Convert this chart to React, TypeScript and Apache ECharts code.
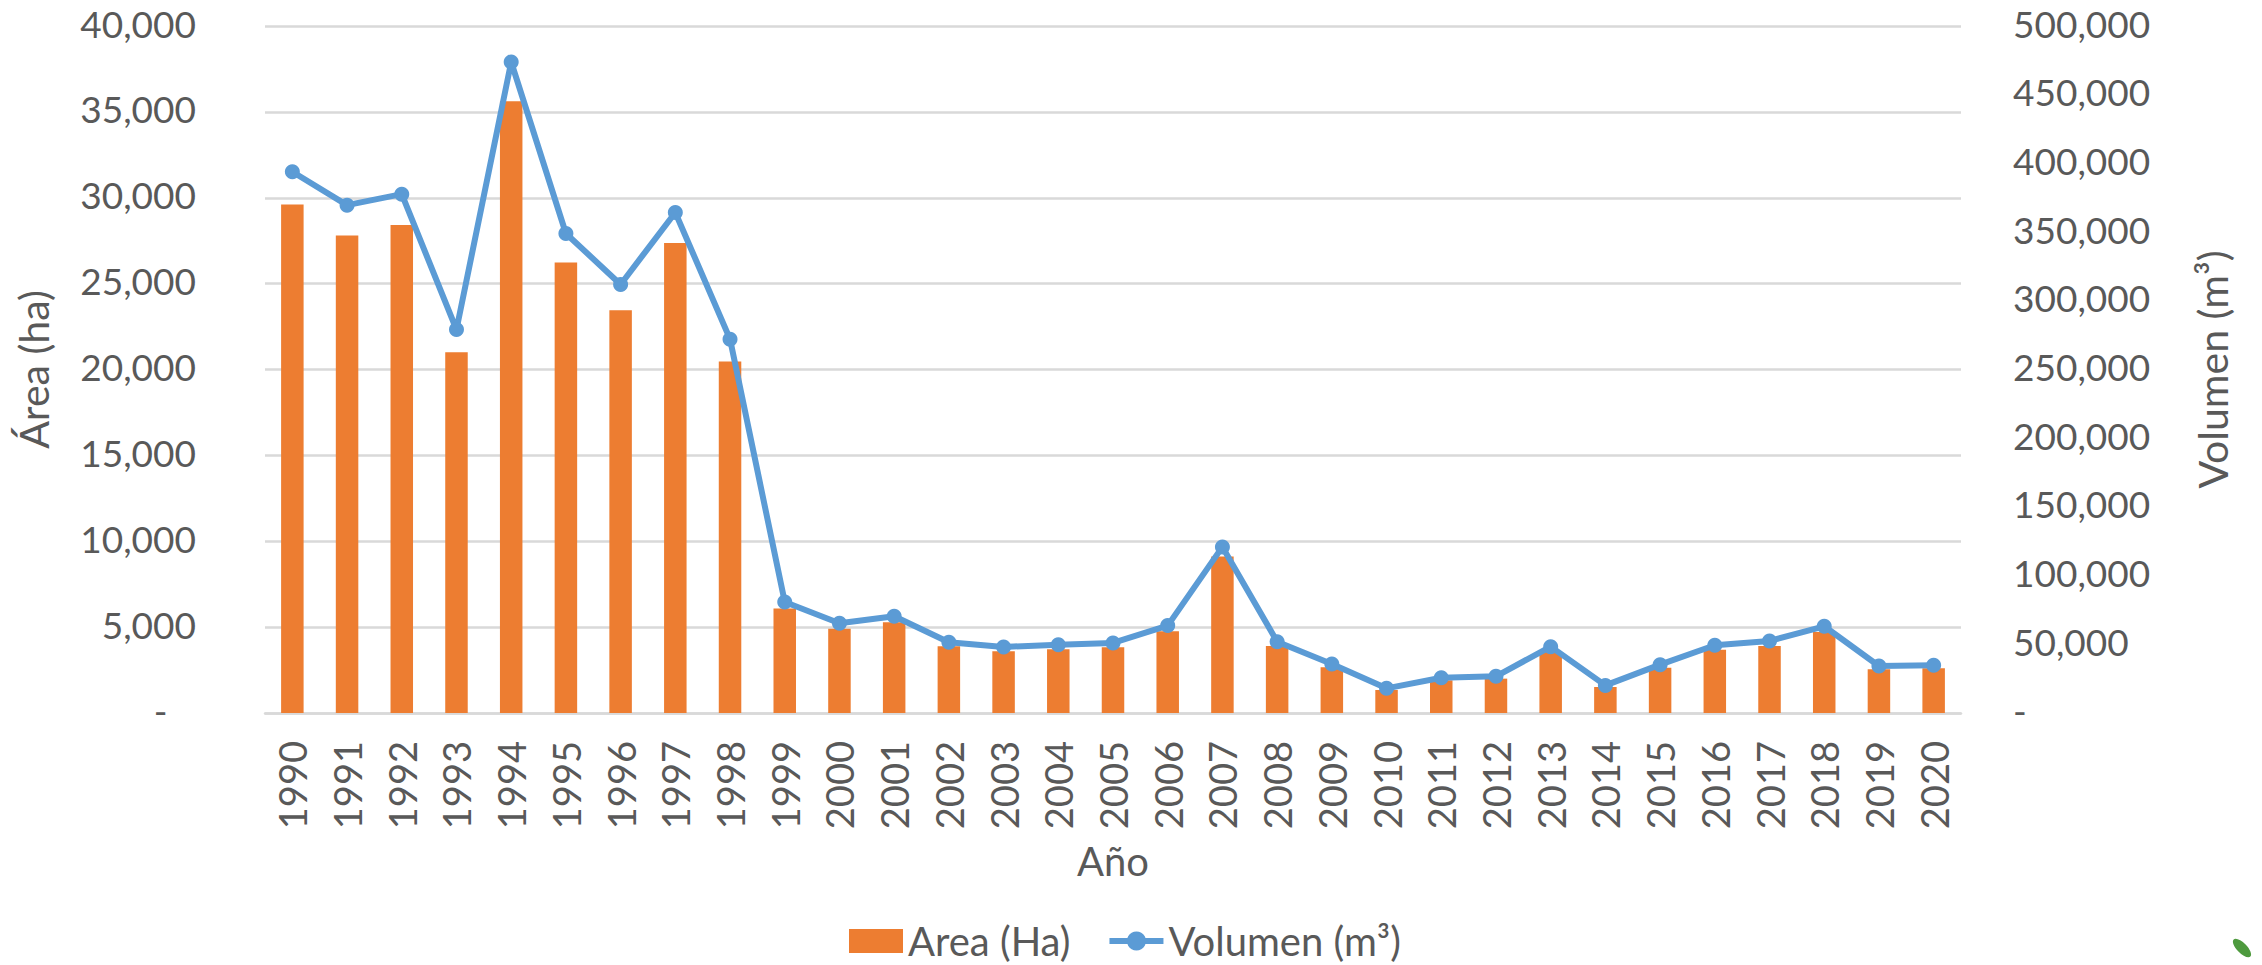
import React, { useEffect, useRef } from "react";
import * as echarts from "echarts";

const years = ["1990","1991","1992","1993","1994","1995","1996","1997","1998","1999","2000","2001","2002","2003","2004","2005","2006","2007","2008","2009","2010","2011","2012","2013","2014","2015","2016","2017","2018","2019","2020"];
const areaHa = [29614,27808,28408,21011,35614,26235,23457,27360,20469,6078,4912,5281,3883,3592,3709,3825,4757,9107,3903,2660,1340,1903,2000,3553,1515,2641,3689,3903,4718,2544,2602];
const volumenM3 = [393900,369600,377600,279100,473800,349000,311900,364300,272100,80800,65300,70400,51450,48050,49750,50970,63600,120900,51900,35700,17960,25700,26700,48300,20100,35200,49300,52400,63100,34200,34700];

const FONT = "Lato";
const TEXT = "#595959";
const GRID = "#D9D9D9";
const fmt = (v: number) => v.toLocaleString("en-US");

export default function App() {
  const ref = useRef<HTMLDivElement>(null);
  useEffect(() => {
    const chart = echarts.init(ref.current!, null, { renderer: "svg" });
    chart.setOption({
      animation: false,
      backgroundColor: "#fff",
      grid: { left: 265, right: 301, top: 26, bottom: 252, containLabel: false },
      legend: {
        left: 844, top: 916, itemWidth: 54, itemHeight: 24, itemGap: 36,
        lineStyle: { width: 6 },
        textStyle: { fontFamily: FONT, fontSize: 40, lineHeight: 40, color: TEXT, padding: [0, 0, 0, 0] },
        data: [{ name: "Area (Ha)", icon: "rect" }, { name: "Volumen (m³)" }],
      },
      xAxis: {
        type: "category", data: years,
        name: "Año", nameLocation: "middle", nameGap: 128,
        nameTextStyle: { fontFamily: FONT, fontSize: 40, color: TEXT },
        axisTick: { show: false },
        axisLine: { lineStyle: { color: GRID, width: 2.5 } },
        axisLabel: { rotate: 90, margin: 28, interval: 0, fontFamily: FONT, fontSize: 38, color: TEXT },
      },
      yAxis: [
        {
          type: "value", min: 0, max: 40000, interval: 5000,
          name: "Área (ha)", nameLocation: "middle", nameRotate: 90, nameGap: 211,
          nameTextStyle: { fontFamily: FONT, fontSize: 41, color: TEXT },
          axisLine: { show: false }, axisTick: { show: false },
          splitLine: { lineStyle: { color: GRID, width: 2.5 } },
          axisLabel: { margin: 69, fontFamily: FONT, fontSize: 37, color: TEXT, verticalAlign: "bottom", lineHeight: 6,
            formatter: (v: number) => (v === 0 ? "-\u00a0\u00a0\u00a0" : fmt(v)) },
        },
        {
          type: "value", min: 0, max: 500000, interval: 50000,
          name: "Volumen (m³)", nameLocation: "middle", nameRotate: 90, nameGap: 231,
          nameTextStyle: { fontFamily: FONT, fontSize: 41, color: TEXT },
          axisLine: { show: false }, axisTick: { show: false }, splitLine: { show: false },
          axisLabel: { margin: 52, fontFamily: FONT, fontSize: 37, color: TEXT, verticalAlign: "bottom", lineHeight: 6,
            formatter: (v: number) => (v === 0 ? "-" : fmt(v)) },
        },
      ],
      graphic: [
        { type: "ellipse", x: 2242, y: 948, rotation: -0.8, shape: { cx: 0, cy: 0, rx: 12, ry: 5 },
          style: { fill: "#4E9A3E" } },
      ],
      series: [
        { name: "Area (Ha)", type: "bar", data: areaHa, yAxisIndex: 0, barWidth: 22.5,
          itemStyle: { color: "#ED7D31" } },
        { name: "Volumen (m³)", type: "line", data: volumenM3, yAxisIndex: 1,
          symbol: "circle", symbolSize: 15, showSymbol: true,
          lineStyle: { color: "#5B9BD5", width: 6 }, itemStyle: { color: "#5B9BD5" } },
      ],
    });
    return () => chart.dispose();
  }, []);
  return <div ref={ref} style={{ position: "absolute", left: 0, top: 0, width: 2262, height: 965 }} />;
}
